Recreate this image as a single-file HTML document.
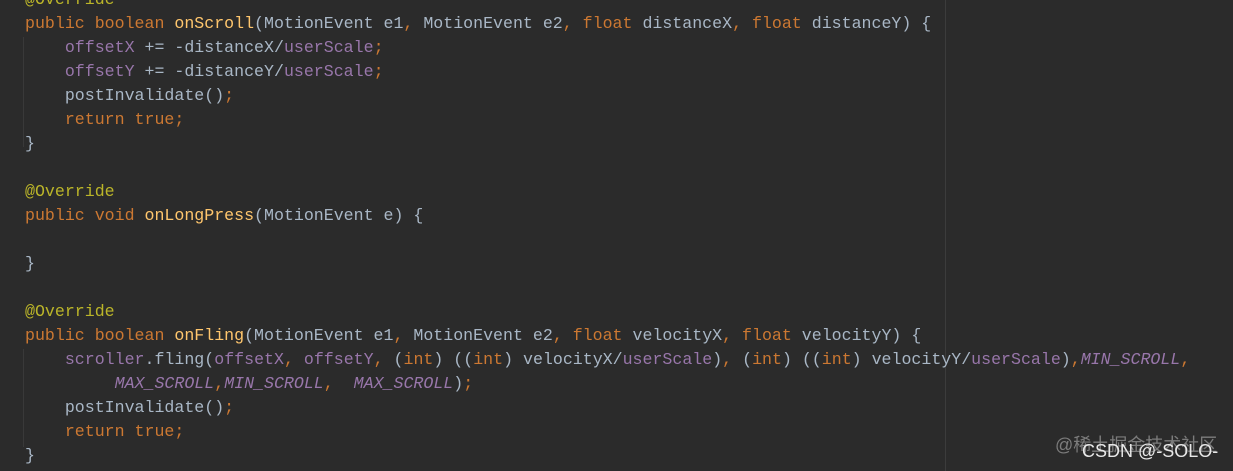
<!DOCTYPE html>
<html><head><meta charset="utf-8"><style>
html,body{margin:0;padding:0;}
body{width:1233px;height:471px;background:#2b2b2b;position:relative;overflow:hidden;}
pre{position:absolute;left:25px;top:-12px;margin:0;font-family:"Liberation Mono",monospace;font-size:16.6px;line-height:24px;color:#a9b7c6;white-space:pre;}
.k{color:#cc7832}.m{color:#ffc66d}.f{color:#9876aa}.a{color:#bbb529}.i{color:#9876aa;font-style:italic}
.vl{position:absolute;left:945px;top:0;width:1px;height:471px;background:#3c3c3c;}
.ig{position:absolute;left:23px;width:1px;background:#393939;}
.w1{position:absolute;left:1055px;top:431px;font-family:"Liberation Sans","Noto Sans CJK SC",sans-serif;font-size:18px;color:rgba(160,160,160,0.7);}
.w2{position:absolute;left:1082px;top:441px;font-family:"Liberation Sans",sans-serif;font-size:18px;color:#e8e8e8;}
</style></head><body>
<div class="vl"></div>
<div class="ig" style="top:37px;height:110px"></div>
<div class="ig" style="top:349px;height:98px"></div>
<pre><span class="a">@Override</span>
<span class="k">public boolean </span><span class="m">onScroll</span>(MotionEvent e1<span class="k">, </span>MotionEvent e2<span class="k">, float </span>distanceX<span class="k">, float </span>distanceY) {
    <span class="f">offsetX</span> += -distanceX/<span class="f">userScale</span><span class="k">;</span>
    <span class="f">offsetY</span> += -distanceY/<span class="f">userScale</span><span class="k">;</span>
    postInvalidate()<span class="k">;</span>
    <span class="k">return true;</span>
}

<span class="a">@Override</span>
<span class="k">public void </span><span class="m">onLongPress</span>(MotionEvent e) {

}

<span class="a">@Override</span>
<span class="k">public boolean </span><span class="m">onFling</span>(MotionEvent e1<span class="k">, </span>MotionEvent e2<span class="k">, float </span>velocityX<span class="k">, float </span>velocityY) {
    <span class="f">scroller</span>.fling(<span class="f">offsetX</span><span class="k">, </span><span class="f">offsetY</span><span class="k">, </span>(<span class="k">int</span>) ((<span class="k">int</span>) velocityX/<span class="f">userScale</span>)<span class="k">, </span>(<span class="k">int</span>) ((<span class="k">int</span>) velocityY/<span class="f">userScale</span>)<span class="k">,</span><span class="i">MIN_SCROLL</span><span class="k">,</span>
         <span class="i">MAX_SCROLL</span><span class="k">,</span><span class="i">MIN_SCROLL</span><span class="k">,  </span><span class="i">MAX_SCROLL</span>)<span class="k">;</span>
    postInvalidate()<span class="k">;</span>
    <span class="k">return true;</span>
}</pre>
<div class="w1">@稀土掘金技术社区</div>
<div class="w2">CSDN @-SOLO-</div>
</body></html>
